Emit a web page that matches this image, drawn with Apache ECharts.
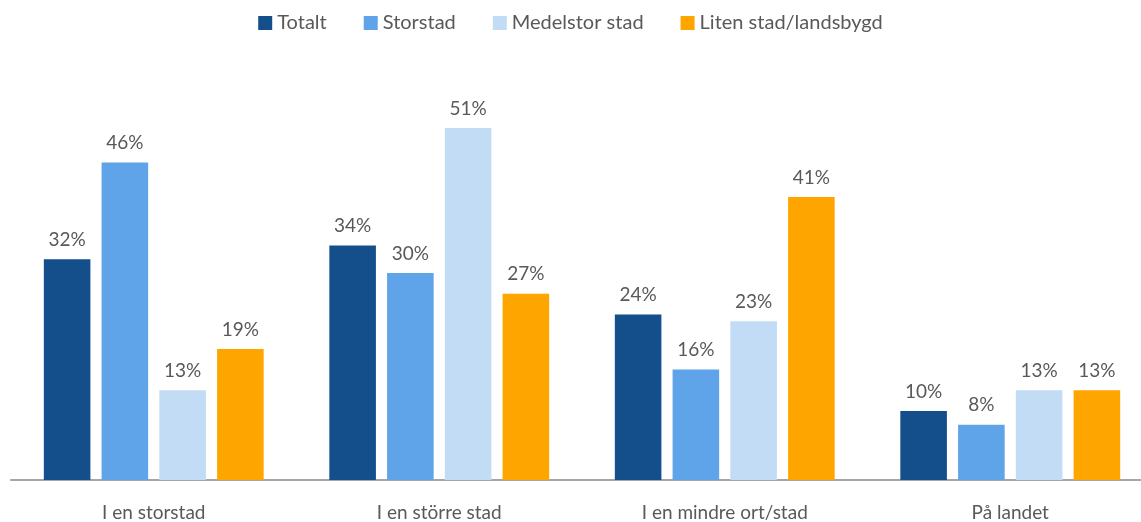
<!DOCTYPE html>
<html>
<head>
<meta charset="utf-8">
<script src="https://cdn.jsdelivr.net/npm/echarts@6/dist/echarts.min.js"></script>
<style>
  html, body { margin: 0; padding: 0; background: #fff; }
  #chart { width: 1141px; height: 522px; }
</style>
</head>
<body>
<div id="chart"></div>
<script>
  // data
  var categories = ['I en storstad', 'I en större stad', 'I en mindre ort/stad', 'På landet'];
  var seriesNames = ['Totalt', 'Storstad', 'Medelstor stad', 'Liten stad/landsbygd'];
  var totalt = [32, 34, 24, 10];
  var storstad = [46, 30, 16, 8];
  var medelstor = [13, 51, 23, 13];
  var liten = [19, 27, 41, 13];

  var colors = ['#144F8C', '#5FA3E8', '#C2DCF5', '#FFA500'];
  var values = [totalt, storstad, medelstor, liten];
  var font = 'Lato';

  var chart = echarts.init(document.getElementById('chart'));

  var series = seriesNames.map(function (name, i) {
    return {
      name: name,
      type: 'bar',
      data: values[i],
      barGap: '24%',
      barCategoryGap: '23%',
      itemStyle: { color: colors[i] },
      label: {
        show: true,
        position: 'top',
        distance: 10,
        formatter: '{c}%',
        color: '#595959',
        fontFamily: font,
        fontSize: 19
      }
    };
  });

  chart.setOption({
    animation: false,
    color: colors,
    textStyle: { fontFamily: font },
    legend: {
      top: 8,
      left: 'center',
      itemWidth: 14,
      itemHeight: 14,
      itemGap: 37,
      icon: 'rect',
      textStyle: { color: '#595959', fontSize: 20, fontFamily: font },
      data: seriesNames
    },
    grid: {
      left: 11,
      right: -12,
      top: 66,
      height: 414,
      outerBoundsMode: 'none',
      containLabel: false
    },
    xAxis: {
      type: 'category',
      data: categories,
      axisLine: { lineStyle: { color: '#A6A6A6', width: 2 } },
      axisTick: { show: false },
      axisLabel: {
        color: '#595959',
        fontSize: 19,
        fontFamily: font,
        margin: 23
      }
    },
    yAxis: {
      type: 'value',
      min: 0,
      max: 60,
      show: false,
      splitLine: { show: false }
    },
    series: series
  });
</script>
</body>
</html>
